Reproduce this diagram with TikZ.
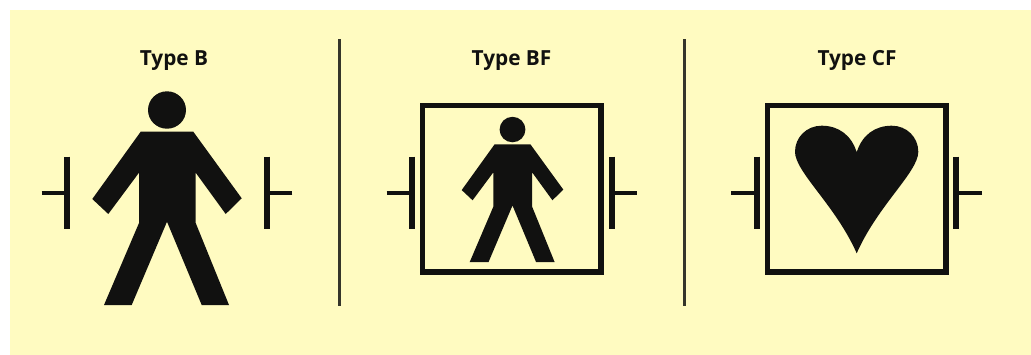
\documentclass[tikz,border=0pt]{standalone}
\usepackage{fontspec}
\setsansfont{Open Sans}
\definecolor{paper}{HTML}{FFFBC1}
\definecolor{ink}{HTML}{111110}
\definecolor{rulecol}{HTML}{35352A}
\tikzset{
  px/.style={x=0.75pt,y=-0.75pt},
  title/.style={font=\sffamily\bfseries\fontsize{15.6pt}{18pt}\selectfont,text=ink,inner sep=0pt,anchor=base},
  bar/.style={draw=ink,line width=4.8pt},
  stub/.style={draw=ink,line width=3.7pt},
  frame/.style={draw=ink,line width=3.8pt,miter limit=10},
  divider/.style={draw=rulecol,line width=2.2pt},
  solid shape/.style={fill=ink,draw=none},
  person/.pic={
    \fill[solid shape] (0,-21.7) ellipse [x radius=19,y radius=18.7];
    \fill[solid shape] (-26.3,0) -- (26.3,0) -- (74.7,66.6) -- (58.7,82.3) -- (28.7,41)
      -- (28.7,91.3) -- (62,173.3) -- (34.7,173.3) -- (0,90) -- (-35.3,173.3) -- (-63,173.3)
      -- (-28,91.3) -- (-28,41) -- (-58.7,82.3) -- (-74.7,67.3) -- cycle;
  }
}
\begin{document}
\begin{tikzpicture}[px]
\useasboundingbox (0,0) rectangle (1031,354);
\fill[paper] (10,10) rectangle (1040,360);
% titles
\node[title] (tb) at (174,65) {Type B};
\node[title] (tbf) at (511.5,65) {Type BF};
\node[title] (tcf) at (857,65) {Type CF};
% dividers
\draw[divider] (339.3,39.3) -- (339.3,306);
\draw[divider] (684.3,39.3) -- (684.3,306);
% Type B
\pic at (167,131.7) {person};
\draw[stub] (41.7,193) -- (67,193);
\draw[bar] (67,156.7) -- (67,229.3);
\draw[stub] (292.3,193) -- (266.7,193);
\draw[bar] (266.7,156.7) -- (266.7,229.3);
% Type BF
\draw[frame] (422.5,105.5) rectangle (601,272);
\pic[scale=.68] at (512.5,144.3) {person};
\draw[stub] (386.7,193) -- (411.7,193);
\draw[bar] (411.7,156.7) -- (411.7,229.3);
\draw[stub] (636.7,193) -- (611.7,193);
\draw[bar] (611.7,156.7) -- (611.7,229.3);
% Type CF
\draw[frame] (767.5,105.5) rectangle (946,272);
\fill[solid shape] (856.7,152.3)
  .. controls (862,135) and (875,125.7) .. (891.7,125.7)
  .. controls (907,125.7) and (918.3,137.5) .. (918.3,151.7)
  .. controls (918.3,172) and (878,205) .. (856.7,253.3)
  .. controls (835.4,205) and (795,172) .. (795,151.7)
  .. controls (795,137.5) and (806.4,125.7) .. (821.7,125.7)
  .. controls (838.4,125.7) and (851.4,135) .. (856.7,152.3) -- cycle;
\draw[stub] (731,193) -- (756.7,193);
\draw[bar] (756.7,156.7) -- (756.7,229.3);
\draw[stub] (982,193) -- (956,193);
\draw[bar] (956,156.7) -- (956,229.3);
\end{tikzpicture}
\end{document}
